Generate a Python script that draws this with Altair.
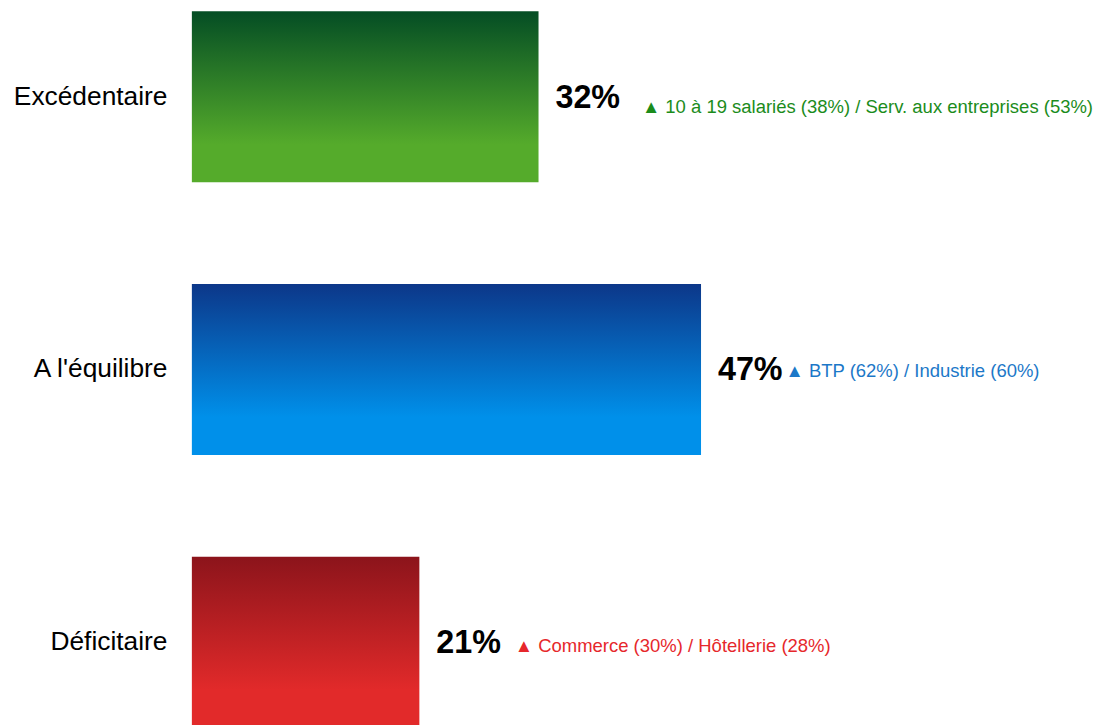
import altair as alt
import pandas as pd

# ---- data ----
categories = ["Excédentaire", "A l'équilibre", "Déficitaire"]
values = [32, 47, 21]
value_labels = ["32%", "47%", "21%"]
details = [
    "10 à 19 salariés (38%) / Serv. aux entreprises (53%)",
    "BTP (62%) / Industrie (60%)",
    "Commerce (30%) / Hôtellerie (28%)",
]

df = pd.DataFrame({
    "cat": categories,
    "val": values,
    "lab": value_labels,
    "det": ["▲ " + d for d in details],
})

# ---- styles ----
FONT = "Liberation Sans, Arial, sans-serif"
styles = {
    "Excédentaire": dict(top="#044d24", bottom="#55ab2b", text="#1b8c1b", ddx=104, ddy=10),
    "A l'équilibre": dict(top="#0c3789", bottom="#0090ea", text="#1c78c8", ddx=85, ddy=2),
    "Déficitaire": dict(top="#8c141b", bottom="#e22a2a", text="#e6272b", ddx=96, ddy=4),
}

XMAX = 83
PX_PER = 10.9

base = alt.Chart(df).encode(
    y=alt.Y(
        "cat:N",
        sort=categories,
        scale=alt.Scale(paddingInner=0.3734, paddingOuter=0),
        axis=alt.Axis(
            title=None, domain=False, ticks=False, grid=False,
            labelFontSize=26.5, labelFont=FONT, labelColor="#000000",
            labelPadding=25, minExtent=185, maxExtent=185,
        ),
    ),
    x=alt.X("val:Q", scale=alt.Scale(domain=[0, XMAX]), axis=None),
)

layers = []
for cat in categories:
    s = styles[cat]
    grad = alt.Gradient(
        gradient="linear",
        stops=[
            alt.GradientStop(color=s["top"], offset=0),
            alt.GradientStop(color=s["bottom"], offset=0.78),
            alt.GradientStop(color=s["bottom"], offset=1),
        ],
        x1=0, x2=0, y1=0, y2=1,
    )
    f = alt.datum.cat == cat
    layers.append(base.transform_filter(f).mark_bar(color=grad))
    layers.append(
        base.transform_filter(f).mark_text(
            align="left", baseline="middle", dx=s["ddx"], dy=s["ddy"],
            fontSize=18.6, font=FONT, color=s["text"],
        ).encode(text="det:N")
    )

layers.append(
    base.mark_text(
        align="left", baseline="middle", dx=17, dy=1,
        fontSize=32.5, fontWeight="bold", font=FONT, color="#000000",
    ).encode(text="lab:N")
)

chart = alt.layer(*layers).properties(
    width=XMAX * PX_PER, height=721, padding=0,
).configure_view(stroke=None)

chart.save("out.html", embed_options={"renderer": "svg", "actions": False})
